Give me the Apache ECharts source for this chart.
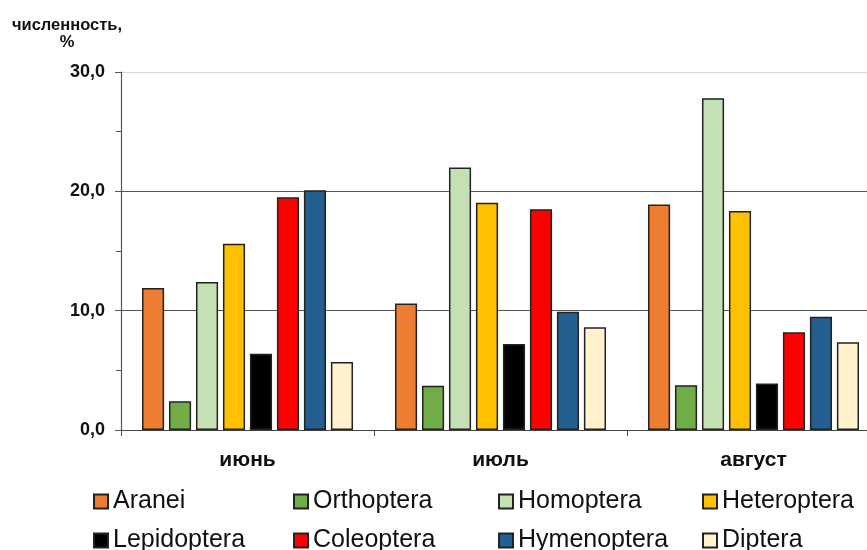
<!DOCTYPE html>
<html>
<head>
<meta charset="utf-8">
<script src="https://cdn.jsdelivr.net/npm/echarts@6/dist/echarts.min.js"></script>
<style>html,body{margin:0;padding:0;background:#fff}#c{width:867px;height:550px}</style>
</head>
<body>
<div id="c"></div>
<script>
const categories = ['июнь', 'июль', 'август'];
const seriesNames = ['Aranei','Orthoptera','Homoptera','Heteroptera','Lepidoptera','Coleoptera','Hymenoptera','Diptera'];
const aranei      = [11.9, 10.6, 18.9];
const orthoptera  = [2.4, 3.7, 3.75];
const homoptera   = [12.4, 22.0, 27.8];
const heteroptera = [15.6, 19.05, 18.35];
const lepidoptera = [6.4, 7.2, 3.9];
const coleoptera  = [19.5, 18.5, 8.2];
const hymenoptera = [20.1, 9.9, 9.5];
const diptera     = [5.7, 8.6, 7.35];
const seriesData = [aranei, orthoptera, homoptera, heteroptera, lepidoptera, coleoptera, hymenoptera, diptera];
const colors = ['#ED7D31','#70AD47','#C5E0B4','#FFC000','#000000','#FF0000','#255E91','#FFF2CC'];

const chart = echarts.init(document.getElementById('c'));
const font = 'Arial, "Liberation Sans", sans-serif';
const legendCols = [93, 293, 498, 702];
const legendRows = [489, 528];
const legends = seriesNames.map((n, i) => ({
  orient: 'horizontal', left: legendCols[i % 4], top: legendRows[Math.floor(i / 4)],
  itemWidth: 14, itemHeight: 14,
  icon: 'rect',
  data: [n],
  textStyle: { fontFamily: font, fontSize: 25, color: '#111' },
  padding: 0
}));
chart.setOption({
  animation: false,
  color: colors,
  title: {
    text: 'численность,\n%', left: 62, top: 12, textAlign: 'center',
    textStyle: { fontFamily: font, fontSize: 16.5, fontWeight: 'bold', color: '#111', lineHeight: 17, align: 'center' }
  },
  legend: legends,
  grid: { left: 121, top: 72, width: 759, height: 358, outerBoundsMode: 'none', containLabel: false },
  xAxis: {
    type: 'category', data: categories,
    axisLine: { lineStyle: { color: '#444', width: 1.2 } },
    axisTick: { show: true, length: 6, lineStyle: { color: '#444' } },
    axisLabel: { fontFamily: font, fontSize: 21, fontWeight: 'bold', color: '#111', margin: 20 }
  },
  yAxis: {
    type: 'value', min: 0, max: 30, interval: 10,
    axisLine: { show: true, lineStyle: { color: '#555', width: 1.2 } },
    axisTick: { show: true, length: 6, lineStyle: { color: '#555' } },
    minorTick: { show: true, splitNumber: 2, length: 5, lineStyle: { color: '#555' } },
    splitLine: { show: true, lineStyle: { color: ['#555', '#555', '#555', '#d8d8d8'], width: 1.2 } },
    axisLabel: { fontFamily: font, fontSize: 18, fontWeight: 'bold', color: '#111', margin: 16,
      formatter: v => v.toFixed(1).replace('.', ',') }
  },
  series: seriesNames.map((n, i) => ({
    name: n, type: 'bar', data: seriesData[i],
    barGap: '22%', barCategoryGap: '16.6%',
    itemStyle: { color: colors[i], borderColor: '#222', borderWidth: 1.5 }
  }))
});
</script>
</body>
</html>
